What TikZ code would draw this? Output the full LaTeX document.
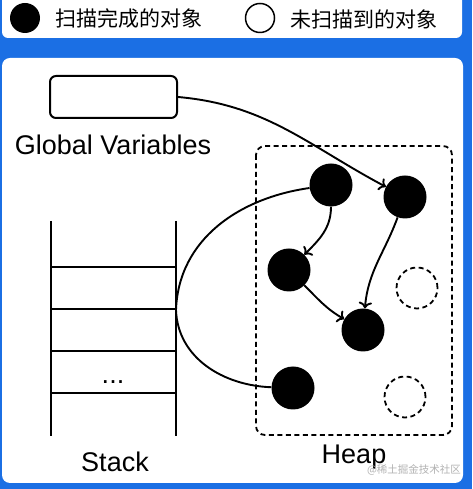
\documentclass[tikz,border=0pt]{standalone}
\usepackage{fontspec}
\setmainfont{Liberation Sans}
\newfontfamily\cjk{Noto Sans CJK SC}
\usepackage{tikz}
\usetikzlibrary{arrows.meta}
\definecolor{panelblue}{HTML}{1B6FE4}

\begin{document}
\begin{tikzpicture}[x=1pt, y=1pt,
        done/.style={circle, fill=black, minimum size=43pt, inner sep=0pt},
        todo/.style={circle, draw, dash pattern=on 5pt off 3.5pt, line width=1.8pt, minimum size=41pt, inner sep=0pt},
        label/.style={font=\fontsize{27}{30}\selectfont},
        keytext/.style={anchor=west, font=\cjk\fontsize{21}{24}\selectfont},
        ref/.style={-{To[scale=1.1]}, line width=1.9pt}]
    \useasboundingbox (0,0) rectangle (472,489);
    \begin{scope}
        \clip (0,0) rectangle (472,489);
        \fill[panelblue] (0,0) rectangle (472,489);
        \fill[white, rounded corners=6pt] (2,500) rectangle (462,451);
        \fill[white, rounded corners=8pt] (2,431) rectangle (463,6);
    \end{scope}

    % legend
    \node[done, minimum size=30pt] at (25,471) (keydone) {};
    \node[keytext] at (52,470) (keydonetext) {扫描完成的对象};
    \node[circle, draw, line width=1.5pt, minimum size=29pt] at (260,471) (keytodo) {};
    \node[keytext] at (287,470) (keytodotext) {未扫描到的对象};

    % global variables
    \node[draw, rounded corners=6pt, line width=2pt, minimum width=127pt, minimum height=42pt] at (113.5,392) (globals) {};
    \node[label] at (113,344) (globlabel) {Global Variables};

    % stack
    \begin{scope}[line width=2pt]
        \draw (51,268) -- (51,53);
        \draw (176,268) -- (176,53);
        \foreach \y in {222,180,138,96}
            \draw (51,\y) -- (176,\y);
    \end{scope}
    \node[label, anchor=base] at (113,105) (dots) {...};
    \node[label] at (115,27) (stacklabel) {Stack};
    \coordinate (stackout) at (176,179);

    % heap
    \draw[line width=1.8pt, dash pattern=on 5pt off 3.5pt, rounded corners=9pt] (256,343) rectangle (452,54);
    \node[label] at (354,32) (heaplabel) {Heap};

    \node[done] at (331,304) (objA) {};
    \node[done] at (405,292) (objB) {};
    \node[done] at (289,219) (objC) {};
    \node[done] at (363,159) (objD) {};
    \node[done] at (293,101) (objE) {};
    \node[todo] at (417,201) (objF) {};
    \node[todo] at (405,92) (objG) {};

    \draw[ref] (globals.east) to[out=-5, in=152] (objB);
    \draw[line width=1.9pt] (stackout) to[out=88, in=188] (objA);
    \draw[line width=1.9pt] (stackout) to[out=-88, in=178] (objE);
    \draw[ref] (objA) to[out=-90, in=45] (objC);
    \draw[ref] (objC) to[out=-45, in=150] (objD);
    \draw[ref] (objB) to[out=-110, in=85] (objD);

    \node[text=black!30, font=\cjk\fontsize{10.5}{12}\selectfont] at (414,19) (mark) {@稀土掘金技术社区};
\end{tikzpicture}
\end{document}
